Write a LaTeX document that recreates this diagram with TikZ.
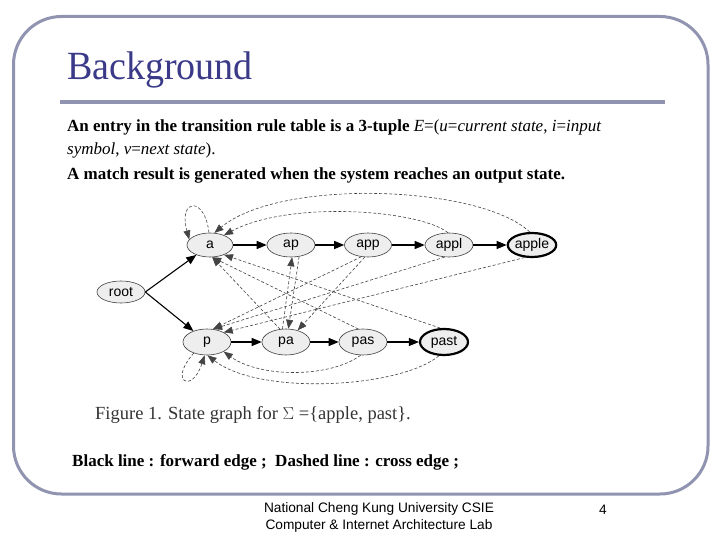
\documentclass[tikz,border=0pt]{standalone}
\usepackage{fontspec}
\setmainfont{Liberation Serif}
\newfontfamily\arialf{Liberation Sans}
\usetikzlibrary{shapes.geometric,arrows.meta}
\definecolor{framecol}{HTML}{9094B0}
\definecolor{titlecol}{HTML}{3A3A88}
\definecolor{nodefill}{HTML}{EEEEEE}
\definecolor{dashcol}{HTML}{444444}
\tikzset{
  state/.style={ellipse, draw=black!75, line width=0.6pt, fill=nodefill, minimum width=47pt, minimum height=24pt, inner sep=0pt, font=\arialf\fontsize{14}{14}\selectfont},
  outstate/.style={state, draw=black, line width=2.2pt},
  fwd/.style={-{Triangle[length=10pt,width=8pt]}, line width=1.1pt, black},
  cross/.style={-{Triangle[length=9pt,width=7pt]}, line width=0.6pt, dashcol, dash pattern=on 3pt off 2pt},
  bodytext/.style={anchor=base west, inner sep=0pt, font=\fontsize{17}{20}\selectfont},
  foot/.style={anchor=base, inner sep=0pt, font=\arialf\fontsize{13.7}{14}\selectfont},
}
\begin{document}
\begin{tikzpicture}[x=1pt,y=-1pt]
\useasboundingbox (0,0) rectangle (720,540);
\fill[white] (0,0) rectangle (720,540);
% frame
\draw[framecol, line width=3pt, rounded corners=48pt] (13.5,16.5) rectangle (708,494);
\node[anchor=base west, inner sep=0pt, text=titlecol, font=\fontsize{40}{40}\selectfont, xscale=0.95] (title) at (67,80) {Background};
\draw[framecol, line width=4.5pt] (60,102) -- (665,102);
% text
\node[bodytext] (l1) at (67,132) {\textbf{An entry in the transition rule table is a 3-tuple} \textit{E}=(\textit{u}=\textit{current state}, \textit{i}=\textit{input}};
\node[bodytext] (l2) at (67,155) {\textit{symbol}, \textit{v}=\textit{next state}).};
\node[bodytext] (l3) at (67,180) {\textbf{A match result is generated when the system reaches an output state.}};
% graph nodes
\node[state, minimum width=48pt, minimum height=22pt] (root) at (121,292) {root};
\node[state, minimum width=46pt] (a) at (210,245) {a};
\node[state, minimum width=48pt] (ap) at (291,245) {ap};
\node[state] (app) at (368,245) {app};
\node[state, minimum width=48pt] (appl) at (449,245) {appl};
\node[outstate, minimum width=48pt] (apple) at (532,245) {apple};
\node[state, minimum width=48pt, minimum height=26pt] (p) at (207,342) {p};
\node[state, minimum width=48pt, minimum height=26pt] (pa) at (286,342) {pa};
\node[state, minimum width=48pt, minimum height=26pt] (pas) at (363,342) {pas};
\node[outstate, minimum width=48pt, minimum height=26pt] (past) at (444,342) {past};
% forward edges
\draw[fwd] (root.east) -- (a);
\draw[fwd] (root.east) -- (p);
\draw[fwd] (a) -- (ap);
\draw[fwd] (ap) -- (app);
\draw[fwd] (app) -- (appl);
\draw[fwd] (appl) -- (apple);
\draw[fwd] (p) -- (pa);
\draw[fwd] (pa) -- (pas);
\draw[fwd] (pas) -- (past);
% cross edges
\draw[cross] (a.95) .. controls (205,196) and (178,198) .. (a.165);
\draw[cross] (apple.100) .. controls (480,185) and (280,178) .. (a.70);
\draw[cross] (appl.95) .. controls (420,210) and (290,200) .. (a.35);
\draw[cross] (pa.115) -- (a.-80);
\draw[cross] (pas.110) -- (a.-80);
\draw[cross] (past.105) -- (a.-35);
\draw[cross] (pa.105) -- (ap.-85);
\draw[cross] (ap.-55) -- (pa.80);
\draw[cross] (app.-105) -- (pa.45);
\draw[cross] (app.-120) -- (p.65);
\draw[cross] (appl.-110) -- (p.65);
\draw[cross] (apple.-120) -- (p.30);
\draw[cross] (pas.-100) .. controls (330,378) and (260,378) .. (p.-30);
\draw[cross] (past.-110) .. controls (400,388) and (260,396) .. (p.-88);
\draw[cross] (p.-140) .. controls (168,382) and (192,394) .. (p.-100);
% captions
\node[anchor=base west, inner sep=0pt, text=black!80, font=\fontsize{18.5}{18.5}\selectfont] (cap) at (95,419) {Figure 1. State graph for $\Sigma$ =\{apple, past\}.};
\node[bodytext, font=\fontsize{17}{20}\selectfont\bfseries] (leg) at (72,466) {Black line : forward edge ;\ \ Dashed line : cross edge ;};
% footer
\node[foot] (f1) at (379,512) {National Cheng Kung University CSIE};
\node[foot] (f2) at (379,529) {Computer \& Internet Architecture Lab};
\node[foot] (pg) at (603,514) {4};
\end{tikzpicture}
\end{document}
